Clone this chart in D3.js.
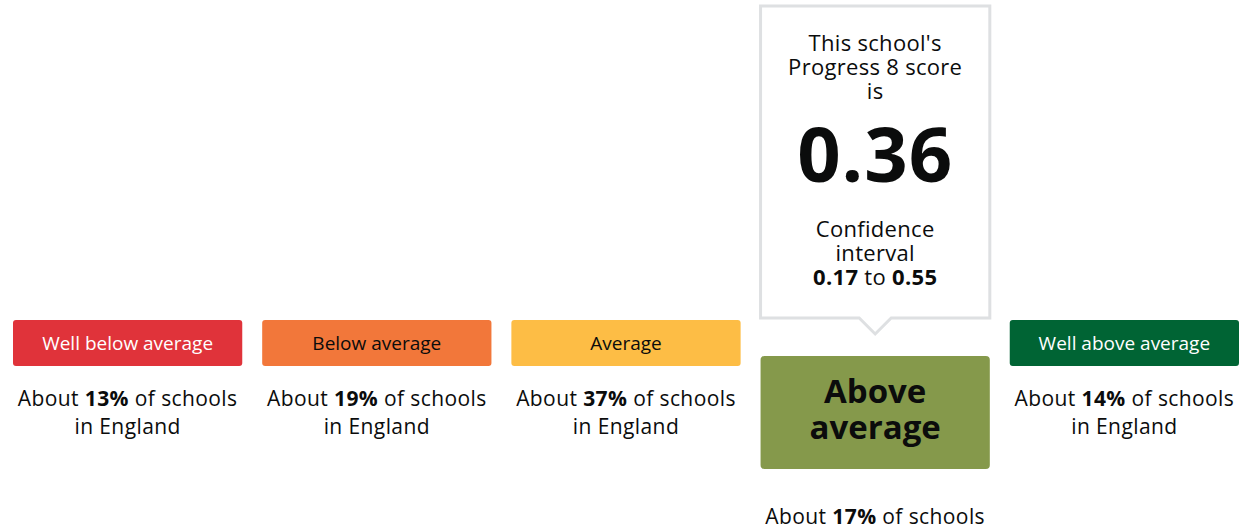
<!DOCTYPE html>
<html>
<head>
<meta charset="utf-8">
<script src="https://cdn.jsdelivr.net/npm/d3@7"></script>
<style>
  html, body { margin: 0; padding: 0; background: #fff; }
  svg { display: block; font-family: "Open Sans", Roboto, sans-serif; }
</style>
</head>
<body>
<svg id="chart" width="1239" height="529"></svg>
<script>
// bands, left to right
var categories = ['Well below average', 'Below average', 'Average', 'Above average', 'Well above average'];
var shares = [13, 19, 37, 17, 14];
var bandColors = ['#e0333a', '#f2773a', '#fdbd45', '#85994b', '#006434'];
var labelColors = ['#ffffff', '#0b0c0c', '#0b0c0c', '#0b0c0c', '#ffffff'];

// this school
var selectedBand = 'Above average';
var score = 0.36;
var ciLow = 0.17;
var ciHigh = 0.55;

var svg = d3.select('#chart');
var W = 1239;

var x = d3.scaleBand()
    .domain(categories)
    .range([13, W])
    .paddingInner(0.08)
    .paddingOuter(0);

var bw = x.bandwidth();

var bands = categories.map(function (c, i) {
    return { name: c, share: shares[i], fill: bandColors[i], ink: labelColors[i], selected: c === selectedBand };
});

var g = svg.selectAll('g.band').data(bands).enter().append('g')
    .attr('class', 'band')
    .attr('transform', function (d) { return 'translate(' + x(d.name) + ',0)'; });

// multi-line text kept in one <text>, one tspan per line
function lines(sel, cx, y0, step, rows) {
    var t = sel.append('text')
        .attr('x', cx).attr('y', y0)
        .attr('dy', '0.35em')
        .attr('text-anchor', 'middle')
        .attr('fill', '#0b0c0c');
    rows.forEach(function (row, i) {
        var first = true;
        row.forEach(function (part) {
            var ts = t.append('tspan').text(part.t);
            if (part.b) ts.attr('font-weight', 'bold');
            if (first) {
                ts.attr('x', cx).attr('y', y0 + i * step).attr('dy', '0.35em');
                first = false;
            }
        });
    });
    return t;
}

// normal boxes
g.filter(function (d) { return !d.selected; }).each(function (d) {
    var s = d3.select(this);
    s.append('rect')
        .attr('x', 0).attr('y', 320)
        .attr('width', bw).attr('height', 46)
        .attr('rx', 3)
        .attr('fill', d.fill);
    s.append('text')
        .attr('x', bw / 2).attr('y', 343)
        .attr('dy', '0.35em')
        .attr('text-anchor', 'middle')
        .attr('font-size', 19)
        .attr('fill', d.ink)
        .text(d.name);
    shareLabel(s, d, 399, true);
});

// the selected box is taller and shifted down
g.filter(function (d) { return d.selected; }).each(function (d) {
    var s = d3.select(this);
    s.append('rect')
        .attr('x', 0).attr('y', 356)
        .attr('width', bw).attr('height', 113)
        .attr('rx', 4)
        .attr('fill', d.fill);
    lines(s, bw / 2, 391, 36, d.name.split(' ').map(function (w) { return [{ t: w }]; }))
        .attr('font-size', 33)
        .attr('font-weight', 'bold')
        .attr('fill', d.ink);
    shareLabel(s, d, 517, false);

    // callout above
    var cx = bw / 2;
    var top = 6, bottom = 318;
    var path = d3.path();
    path.moveTo(0, top);
    path.lineTo(bw, top);
    path.lineTo(bw, bottom);
    path.lineTo(cx + 16, bottom);
    path.lineTo(cx, bottom + 16);
    path.lineTo(cx - 16, bottom);
    path.lineTo(0, bottom);
    path.closePath();
    s.append('path')
        .attr('d', path.toString())
        .attr('fill', '#fff')
        .attr('stroke', '#dee0e2')
        .attr('stroke-width', 3);

    lines(s, cx, 43, 24, [[{ t: "This school's" }], [{ t: 'Progress 8 score' }], [{ t: 'is' }]])
        .attr('font-size', 22)
        .attr('letter-spacing', 0.3);

    s.append('text')
        .attr('x', cx).attr('y', 155)
        .attr('dy', '0.35em')
        .attr('text-anchor', 'middle')
        .attr('font-size', 76)
        .attr('font-weight', 'bold')
        .attr('letter-spacing', 1)
        .attr('fill', '#0b0c0c')
        .text(d3.format('.2f')(score));

    lines(s, cx, 229, 24, [
        [{ t: 'Confidence' }],
        [{ t: 'interval' }],
        [{ t: d3.format('.2f')(ciLow), b: true }, { t: ' to ' }, { t: d3.format('.2f')(ciHigh), b: true }]
    ]).attr('font-size', 22)
        .attr('letter-spacing', 0.3);
});

function shareLabel(s, d, y, secondLine) {
    var rows = [[{ t: 'About ' }, { t: d.share + '%', b: true }, { t: ' of schools' }]];
    // below the selected box the second line falls off the bottom
    if (secondLine) rows.push([{ t: 'in England' }]);
    lines(s, bw / 2, y, 28, rows)
        .attr('font-size', 21)
        .attr('letter-spacing', 0.4);
}
</script>
</body>
</html>
